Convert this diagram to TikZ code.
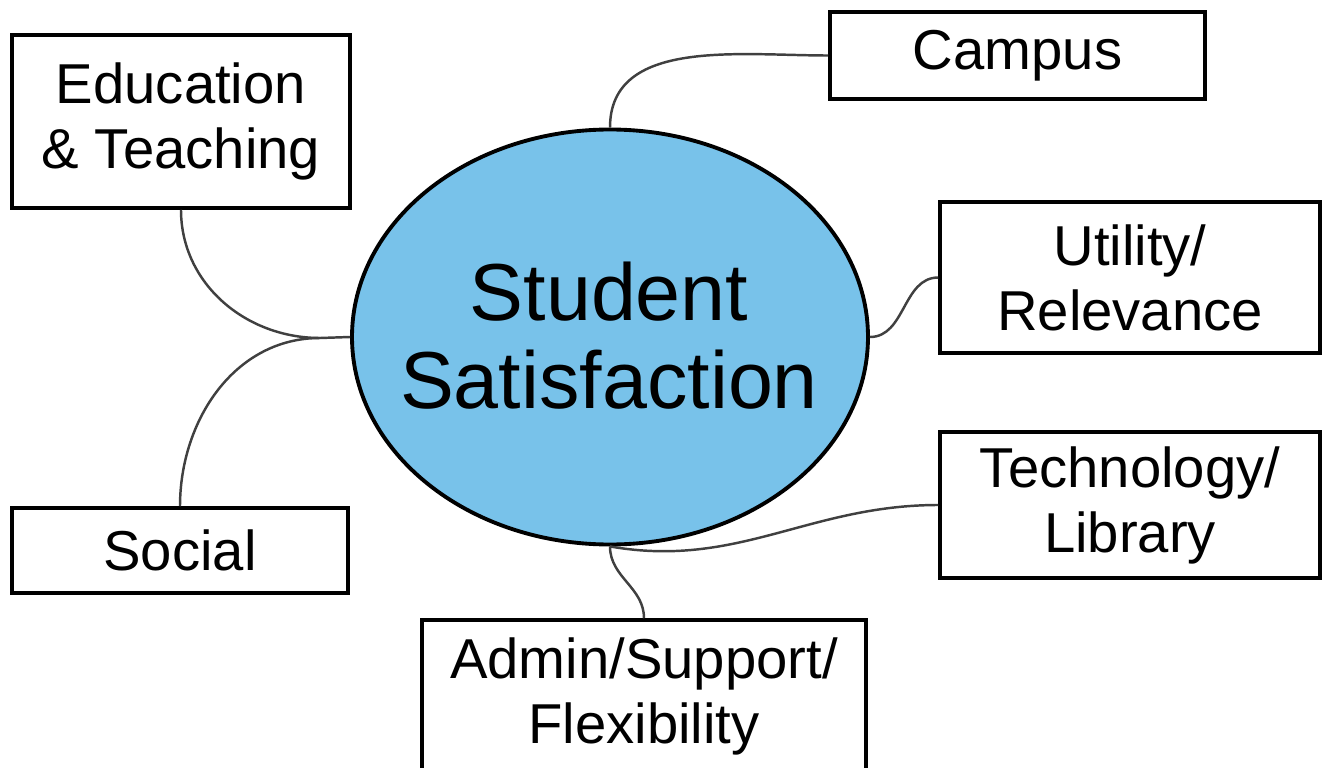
\documentclass[tikz,border=0pt]{standalone}
\usepackage{fontspec}
\setmainfont{Liberation Sans}
\usetikzlibrary{shapes.geometric}
\definecolor{satblue}{RGB}{120,194,234}

\begin{document}
\begin{tikzpicture}
                \tikzstyle{factor} = [draw, line width=1pt, align=center, font=\fontsize{16}{18.5}\selectfont, minimum width={#1}]
                \tikzstyle{link} = [line width=0.7pt, color=black!75]
                \useasboundingbox (0, 0) rectangle (13.27, -7.68);
                \node[ellipse, draw, line width=1.1pt, fill=satblue, inner sep=0pt, minimum width=5.16cm, minimum height=4.15cm] (sat) at (6.10, -3.37) {};
                \node[align=center, font=\fontsize{23}{25}\selectfont] (sattext) at (6.09, -3.36) {Student\\Satisfaction};
                \node[factor=3.38cm, minimum height=1.73cm] (edu) at (1.81, -1.215) {Education\\\& Teaching};
                \node[factor=3.75cm, minimum height=0.87cm] (campus) at (10.175, -0.555) {Campus};
                \node[factor=3.80cm, minimum height=1.51cm] (util) at (11.30, -2.775) {Utility/\\Relevance};
                \node[factor=3.80cm, minimum height=1.46cm] (tech) at (11.30, -5.05) {Technology/\\Library};
                \node[factor=3.36cm, minimum height=0.85cm] (social) at (1.80, -5.505) {Social};
                \node[factor=4.44cm, minimum height=1.52cm] (admin) at (6.44, -6.96) {Admin/Support/\\Flexibility};
                \coordinate (join) at (3.20, -3.38);
                \draw[link] (edu.south) to[out=-90, in=180] (join) -- (sat.west);
                \draw[link] (social.north) to[out=90, in=180] (join);
                \draw[link] (sat.north) to[out=90, in=180] (campus.west);
                \draw[link] (sat.east) to[out=0, in=180] (util.west);
                \draw[link] (sat.south) to[out=-10, in=180] (tech.west);
                \draw[link] (sat.south) to[out=-90, in=90] (admin.north);
            \end{tikzpicture}
\end{document}
